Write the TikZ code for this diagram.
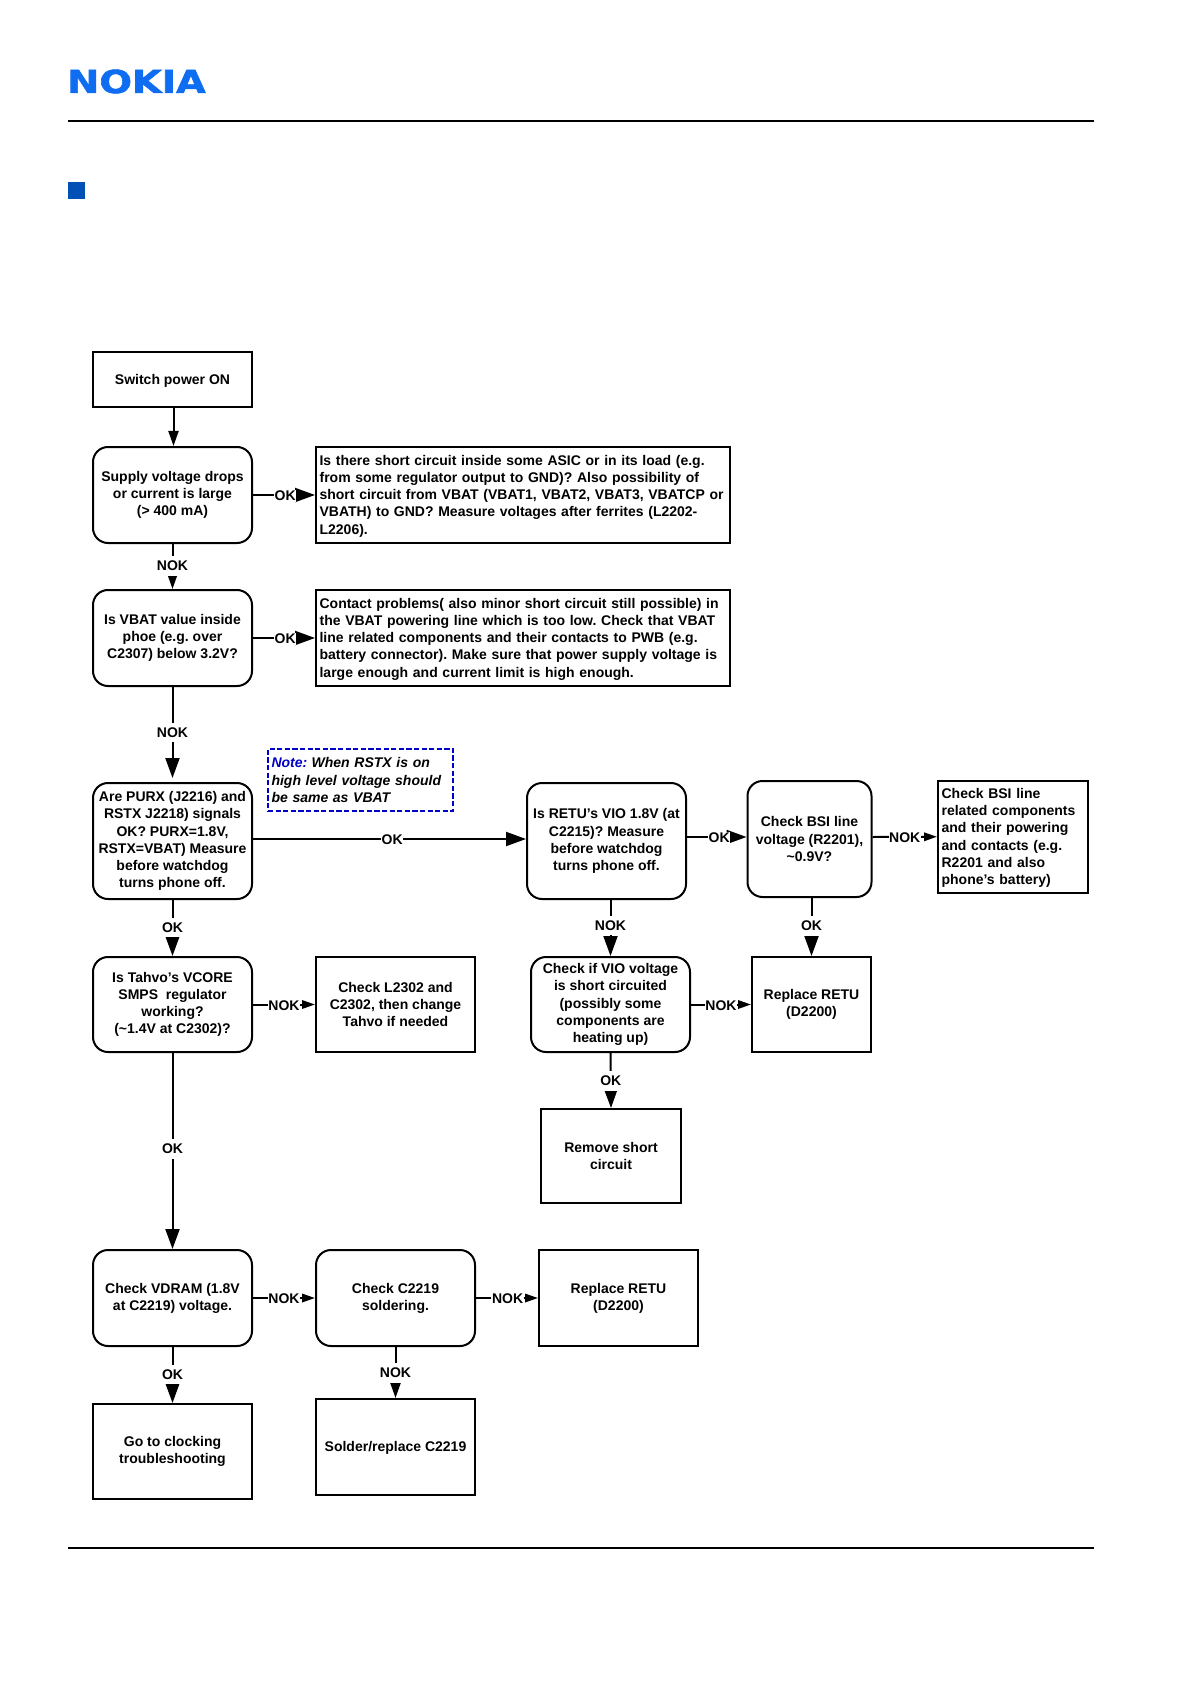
\documentclass[tikz,border=0pt]{standalone}
\usepackage{fontspec}
\setmainfont{Liberation Sans}
\newfontfamily\logofont[BoldFeatures={FakeBold=1.6}]{DejaVu Sans}
\usetikzlibrary{arrows.meta}
\definecolor{logoblue}{HTML}{0F6DF2}
\definecolor{sqblue}{HTML}{0050B5}
\definecolor{noteblue}{HTML}{0000C8}
\tikzset{
  x=0.5pt,y=-0.5pt,
  sz/.style 2 args={minimum width=#1*0.5pt,minimum height=#2*0.5pt},
  base/.style={draw=black,line width=1pt,inner sep=1pt,align=center,fill=white,
    font=\fontsize{7}{8.6}\selectfont\bfseries\frenchspacing,
    execute at begin node={\rule{0pt}{6.2pt}}},
  sq/.style={base},
  rnd/.style={base,rounded corners=7.5pt},
  lefttext/.style={base,align=left,inner xsep=1.8pt,text width=#1*0.5pt-3.6pt},
  conn/.style={line width=1pt,draw=black},
  arrL/.style={conn,-{Triangle[length=10pt,width=7pt]}},
  arrM/.style={conn,-{Triangle[length=7.5pt,width=5pt]}},
  arrS/.style={conn,-{Triangle[length=6.5pt,width=4.2pt]}},
  lab/.style={fill=white,inner xsep=0.3pt,inner ysep=0.6pt,yshift=-0.4pt,
    font=\fontsize{7}{8.5}\selectfont\bfseries},
  vlab/.style={lab,inner ysep=2.4pt},
  rule/.style={line width=1.1pt,draw=black},
}
\begin{document}
\begin{tikzpicture}
\useasboundingbox (0,0) rectangle (1191,1684);
% header / footer
\node[inner sep=0,text=logoblue,xscale=1.215,font=\logofont\fontsize{15.8}{16}\selectfont\bfseries] (logo) at (136.5,81.5) {NOKIA};
\coordinate (t1) at (68,121); \coordinate (t2) at (1094,121);
\draw[rule] (t1) -- (t2);
\coordinate (b1) at (68,1548); \coordinate (b2) at (1094,1548);
\draw[rule] (b1) -- (b2);
\node[fill=sqblue,minimum width=8.5pt,minimum height=8.5pt,inner sep=0] (bullet) at (76.5,190.5) {};

% boxes
\node[sq,sz={159}{55}] (sw) at (172.5,379.5) {Switch power ON};
\node[rnd,sz={159}{96}] (sup) at (172.5,495) {Supply voltage drops\\or current is large\\(> 400 mA)};
\node[lefttext=414,minimum height=48pt] (r1) at (523,495) {Is there short circuit inside some ASIC or in its load (e.g.\\from some regulator output to GND)? Also possibility of\\short circuit from VBAT (VBAT1, VBAT2, VBAT3, VBATCP or\\VBATH) to GND? Measure voltages after ferrites (L2202-\\L2206).};
\node[rnd,sz={159}{96}] (vb) at (172.5,638) {Is VBAT value inside\\phoe (e.g. over\\C2307) below 3.2V?};
\node[lefttext=414,minimum height=48pt] (r2) at (523,638) {Contact problems( also minor short circuit still possible) in\\the VBAT powering line which is too low. Check that VBAT\\line related components and their contacts to PWB (e.g.\\battery connector). Make sure that power supply voltage is\\large enough and current limit is high enough.};
\node[rnd,sz={159}{116}] (pu) at (172.5,841) {Are PURX (J2216) and\\RSTX J2218) signals\\OK? PURX=1.8V,\\RSTX=VBAT) Measure\\before watchdog\\turns phone off.};
\node[draw=noteblue,dash pattern=on 2.6pt off 1.2pt,line width=1pt,fill=white,inner xsep=1.8pt,inner ysep=1pt,minimum height=31pt,align=left,text width=89pt,font=\fontsize{7}{8.6}\selectfont\bfseries\itshape] (note) at (360.5,780) {\textcolor{noteblue}{Note:}\hspace{2.2pt}When RSTX is on\\high level voltage should\\be same as VBAT};
\node[rnd,sz={159}{116}] (re) at (606.5,841) {Is RETU’s VIO 1.8V (at\\C2215)? Measure\\before watchdog\\turns phone off.};
\node[rnd,sz={124}{116}] (bs) at (809.5,839) {Check BSI line\\voltage (R2201),\\\textasciitilde 0.9V?};
\node[lefttext=150,minimum height=55.75pt] (br) at (1013,836.75) {Check BSI line\\related components\\and their powering\\and contacts (e.g.\\R2201 and also\\phone’s battery)};
\node[rnd,sz={159}{95}] (ta) at (172.5,1004.5) {Is Tahvo’s VCORE\\SMPS\ \ regulator\\working?\\(\textasciitilde 1.4V at C2302)?};
\node[sq,sz={159}{95}] (l2) at (395.5,1004.5) {Check L2302 and\\C2302, then change\\Tahvo if needed};
\node[rnd,sz={159}{95}] (vi) at (610.5,1004.5) {Check if VIO voltage\\is short circuited\\(possibly some\\components are\\heating up)};
\node[sq,sz={119}{95}] (rp) at (811.5,1004.5) {Replace RETU\\(D2200)};
\node[sq,sz={140}{94}] (rm) at (611,1156) {Remove short\\circuit};
\node[rnd,sz={159}{96}] (vd) at (172.5,1298) {Check VDRAM (1.8V\\at C2219) voltage.};
\node[rnd,sz={159}{96}] (c2) at (395.5,1298) {Check C2219\\soldering.};
\node[sq,sz={159}{96}] (rq) at (618.5,1298) {Replace RETU\\(D2200)};
\node[sq,sz={159}{95}] (go) at (172.5,1451.5) {Go to clocking\\troubleshooting};
\node[sq,sz={159}{96}] (so) at (395.5,1447) {Solder/replace C2219};

% connectors
\draw[arrM] ([xshift=0.5pt]sw.south) -- ([xshift=0.5pt]sup.north);
\draw[arrL] (sup.east) -- node[lab,pos=.52]{OK} (r1.west);
\draw[arrM] (sup.south) -- node[vlab,pos=.47]{NOK} (vb.north);
\draw[arrL] (vb.east) -- node[lab,pos=.52]{OK} (r2.west);
\draw[arrL,shorten >=2pt] (vb.south) -- node[vlab,pos=.47]{NOK} (pu.north);
\draw[arrL] ([yshift=1pt]pu.east) -- node[lab,pos=.51]{OK} ([yshift=1pt]re.west);
\draw[arrL] (pu.south) -- node[vlab,pos=.48]{OK} (ta.north);
\draw[arrS] (ta.east) -- node[lab,pos=.5]{NOK} (l2.west);
\draw[arrL] (ta.south) -- node[vlab,pos=.485]{OK} (vd.north);
\draw[arrS] (vd.east) -- node[lab,pos=.5]{NOK} (c2.west);
\draw[arrS] (c2.east) -- node[lab,pos=.51]{NOK} (rq.west);
\draw[arrL] (vd.south) -- node[vlab,pos=.48]{OK} (go.north);
\draw[arrM] (c2.south) -- node[vlab,pos=.49]{NOK} (so.north);
\draw[arrL] ([yshift=2pt]re.east) -- node[lab,pos=.54]{OK} ([yshift=1pt]bs.west);
\draw[arrS] ([yshift=1pt]bs.east) -- node[lab,pos=.5]{NOK} (br.west);
\draw[arrL] (vi.north |- re.south) -- node[vlab,pos=.44]{NOK} (vi.north);
\draw[arrL] (rp.north |- bs.south) -- node[vlab,pos=.47]{OK} (rp.north);
\draw[arrS] (vi.east) -- node[lab,pos=.5]{NOK} (rp.west);
\draw[arrL] (vi.south) -- node[vlab,pos=.49]{OK} (rm.north);
\end{tikzpicture}
\end{document}
